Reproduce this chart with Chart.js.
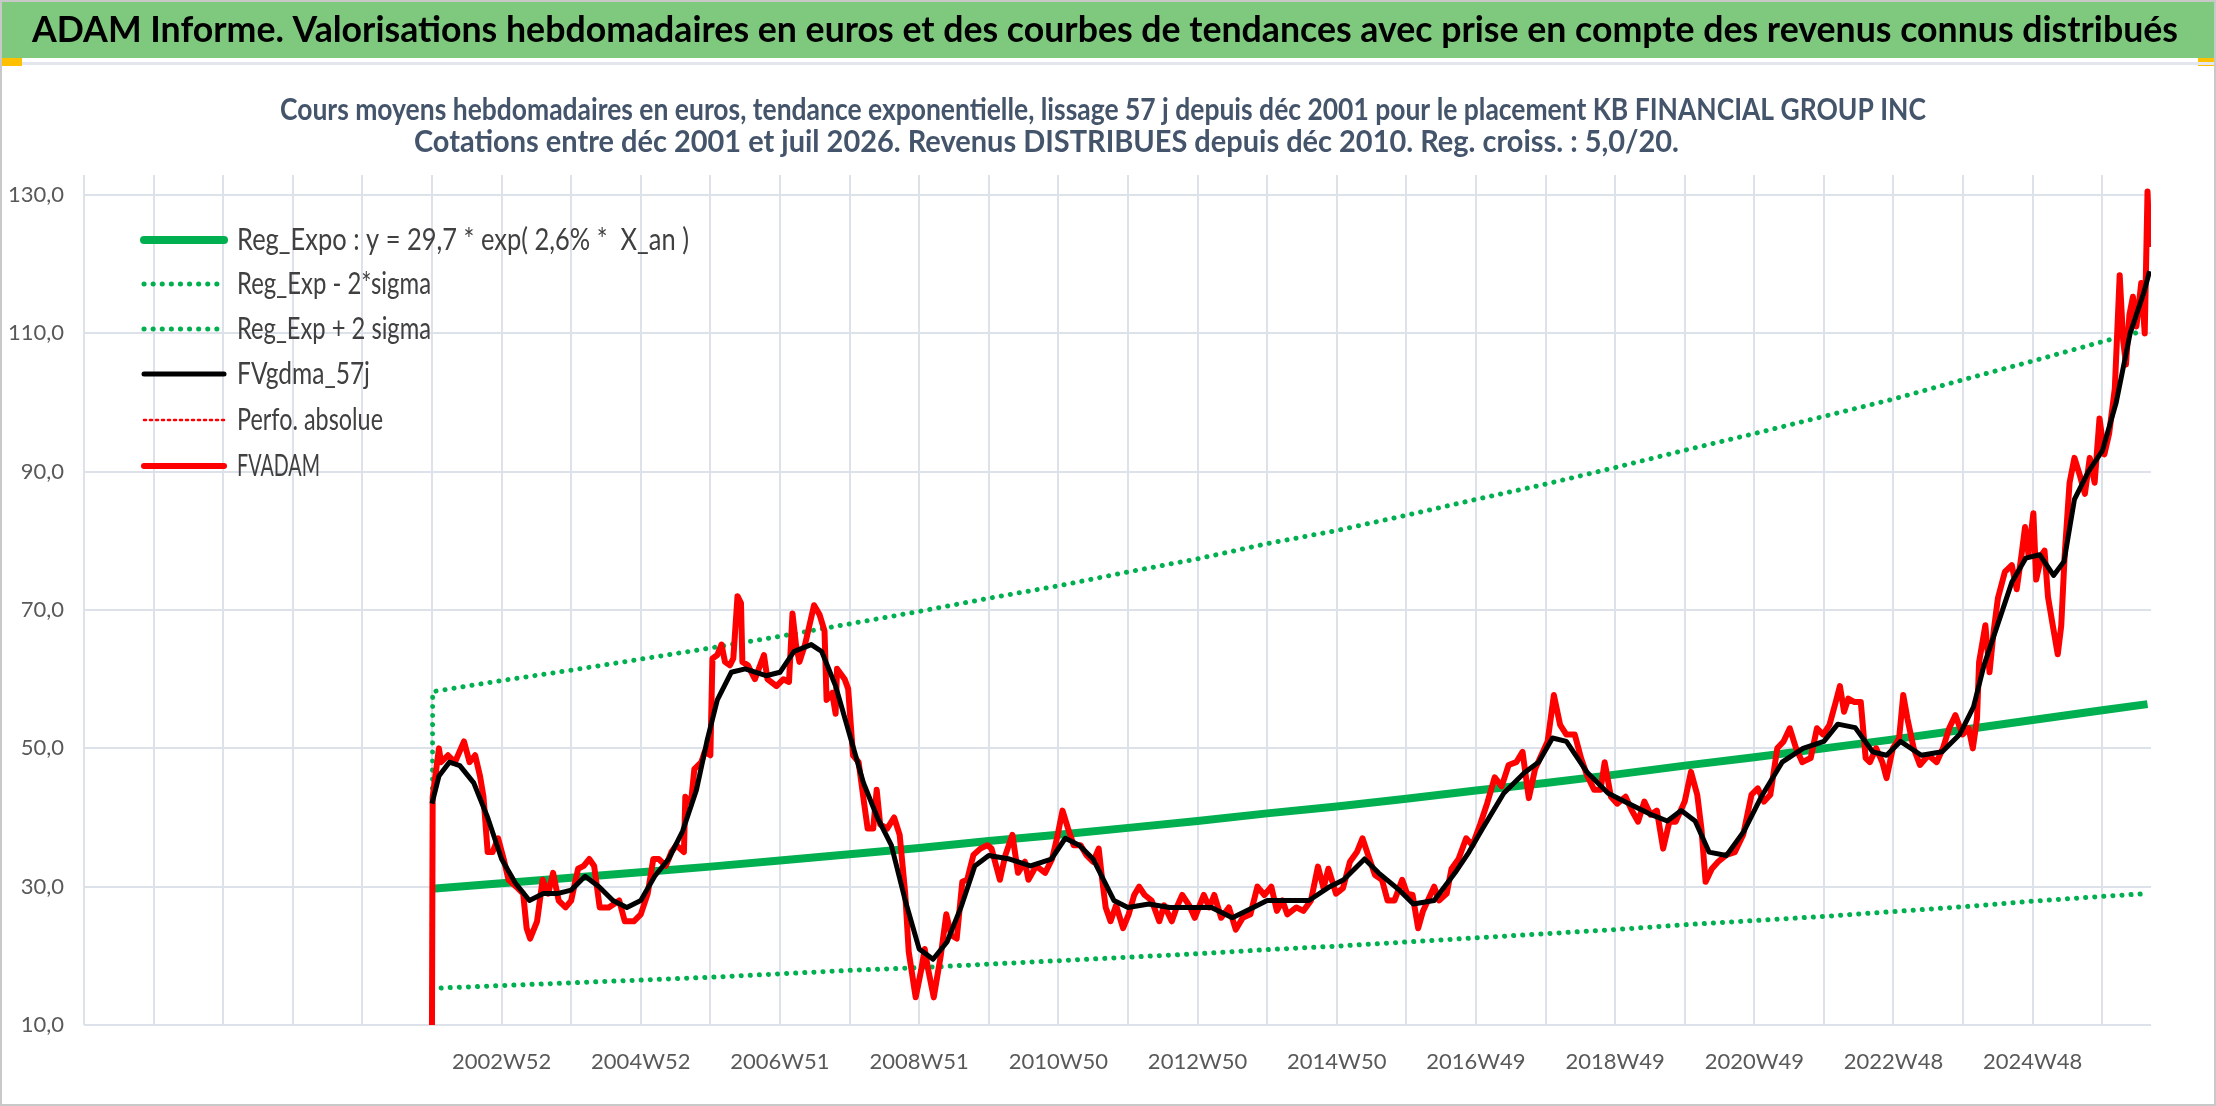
<!DOCTYPE html>
<html><head><meta charset="utf-8">
<script src="https://cdn.jsdelivr.net/npm/chart.js@4/dist/chart.umd.min.js"></script>
<style>html,body{margin:0;padding:0;background:#fff;}#wrap{position:relative;width:2216px;height:1106px;}</style>
</head><body><div id="wrap"><canvas id="c" width="2216" height="1106"></canvas></div>
<script>
const bannerText = "ADAM Informe. Valorisations hebdomadaires en euros et des courbes de tendances avec prise en compte des revenus connus distribués";
const titleLines = ["Cours moyens hebdomadaires en euros, tendance exponentielle, lissage 57 j depuis déc 2001 pour le placement KB FINANCIAL GROUP INC",
                    "Cotations entre déc 2001 et juil 2026. Revenus DISTRIBUES depuis déc 2010. Reg. croiss. : 5,0/20."];
const tickYears = [2003,2005,2007,2009,2011,2013,2015,2017,2019,2021,2023,2025];
const tickLabels = ["2002W52","2004W52","2006W51","2008W51","2010W50","2012W50","2014W50","2016W49","2018W49","2020W49","2022W48","2024W48"];
const yTicks = [10,30,50,70,90,110,130];

const trendX = [2002.0,2003,2004,2005,2006,2007,2008,2009,2010,2011,2012,2013,2014,2015,2016,2017,2018,2019,2020,2021,2022,2023,2024,2025,2026,2026.65];
const regExpo = [29.7,30.5,31.3,32.1,32.9,33.8,34.7,35.6,36.6,37.5,38.5,39.5,40.6,41.6,42.7,43.9,45.0,46.2,47.5,48.7,50.0,51.3,52.7,54.1,55.5,56.4];
const regLow  = [15.3,15.7,16.1,16.5,16.9,17.4,17.9,18.3,18.8,19.3,19.8,20.3,20.9,21.4,22.0,22.6,23.2,23.8,24.5,25.1,25.7,26.4,27.1,27.9,28.6,29.0];
const upX = [2002.0,2002.01,2003,2004,2005,2006,2007,2008,2009,2010,2011,2012,2013,2014,2015,2016,2017,2018,2019,2020,2021,2022,2023,2024,2025,2026,2026.65];
const regHigh = [10,58.2,59.8,61.3,62.9,64.5,66.2,68.0,69.8,71.7,73.5,75.5,77.4,79.6,81.5,83.7,86.0,88.2,90.6,93.1,95.5,98.0,100.5,103.3,106.0,108.8,110.5];

const smoothX = [2002.0,2002.1,2002.25,2002.4,2002.6,2002.8,2003.0,2003.2,2003.4,2003.6,2003.8,2004.0,2004.2,2004.4,2004.6,2004.8,2005.0,2005.2,2005.4,2005.6,2005.8,2005.95,2006.1,2006.3,2006.5,2006.8,2007.0,2007.2,2007.45,2007.6,2007.8,2008.0,2008.2,2008.4,2008.6,2008.8,2009.0,2009.2,2009.4,2009.6,2009.8,2010.0,2010.3,2010.6,2010.9,2011.1,2011.3,2011.5,2011.8,2012.0,2012.3,2012.6,2012.9,2013.2,2013.5,2013.8,2014.0,2014.3,2014.6,2014.9,2015.1,2015.4,2015.6,2015.9,2016.1,2016.4,2016.7,2016.9,2017.1,2017.4,2017.7,2017.9,2018.1,2018.3,2018.6,2018.9,2019.2,2019.5,2019.75,2019.95,2020.15,2020.35,2020.6,2020.85,2021.1,2021.4,2021.7,2022.0,2022.2,2022.45,2022.7,2022.9,2023.1,2023.4,2023.7,2023.95,2024.15,2024.3,2024.5,2024.7,2024.9,2025.1,2025.3,2025.45,2025.6,2025.8,2026.0,2026.2,2026.4,2026.6,2026.68];
const smoothY = [42,46,48,47.5,45,40,34,30.5,28,29,29,29.5,31.5,30,28,27,28,31.5,34,38,44,51,57,61,61.5,60.5,61,64,65,64,59,52,45,40,36,28,21,19.5,22,27,33,34.5,34,33,34,37,36,34,28,27,27.5,27,27,27,25.5,27,28,28,28,30,31,34,32,29.5,27.5,28,32,35,38.5,43.5,46.5,48,51.5,51,46.5,43.5,42,40.5,39.5,41,39.5,35,34.5,38,43,48,50,51,53.5,53,49.5,49,51,49,49.5,52,56,62,68,74,77.5,78,75,77,86,90,93,100,110,116,119];

const priceX = [2002.00,2002.01,2002.10,2002.13,2002.23,2002.33,2002.46,2002.54,2002.62,2002.69,2002.74,2002.80,2002.87,2002.95,2003.03,2003.10,2003.21,2003.31,2003.36,2003.41,2003.51,2003.59,2003.67,2003.74,2003.82,2003.92,2004.00,2004.10,2004.18,2004.26,2004.33,2004.41,2004.54,2004.69,2004.77,2004.90,2005.00,2005.10,2005.18,2005.26,2005.36,2005.44,2005.51,2005.62,2005.64,2005.72,2005.77,2005.87,2005.92,2006.00,2006.03,2006.10,2006.16,2006.21,2006.28,2006.33,2006.39,2006.44,2006.46,2006.54,2006.64,2006.77,2006.82,2006.95,2007.05,2007.13,2007.18,2007.23,2007.28,2007.36,2007.49,2007.57,2007.64,2007.67,2007.75,2007.80,2007.82,2007.93,2007.98,2008.05,2008.13,2008.21,2008.26,2008.34,2008.39,2008.44,2008.54,2008.64,2008.72,2008.80,2008.85,2008.95,2009.03,2009.08,2009.13,2009.21,2009.31,2009.39,2009.46,2009.54,2009.62,2009.69,2009.78,2009.88,2009.98,2010.04,2010.16,2010.24,2010.34,2010.42,2010.52,2010.57,2010.68,2010.81,2010.91,2010.98,2011.06,2011.14,2011.22,2011.32,2011.40,2011.50,2011.58,2011.63,2011.68,2011.75,2011.83,2011.93,2012.01,2012.09,2012.16,2012.24,2012.34,2012.45,2012.52,2012.63,2012.70,2012.78,2012.88,2012.96,2013.09,2013.17,2013.24,2013.34,2013.45,2013.55,2013.65,2013.76,2013.86,2013.96,2014.06,2014.14,2014.22,2014.29,2014.42,2014.52,2014.63,2014.73,2014.81,2014.88,2014.99,2015.09,2015.19,2015.29,2015.37,2015.45,2015.55,2015.65,2015.73,2015.83,2015.94,2016.01,2016.09,2016.17,2016.24,2016.40,2016.47,2016.58,2016.65,2016.75,2016.86,2016.95,2017.06,2017.16,2017.27,2017.37,2017.47,2017.58,2017.67,2017.76,2017.85,2017.94,2018.03,2018.12,2018.21,2018.30,2018.42,2018.51,2018.60,2018.70,2018.79,2018.85,2018.94,2019.03,2019.15,2019.24,2019.33,2019.42,2019.51,2019.60,2019.69,2019.78,2019.87,2020.00,2020.09,2020.18,2020.24,2020.30,2020.39,2020.48,2020.60,2020.72,2020.84,2020.96,2021.05,2021.14,2021.23,2021.33,2021.42,2021.51,2021.60,2021.69,2021.81,2021.90,2021.99,2022.08,2022.17,2022.23,2022.29,2022.35,2022.44,2022.53,2022.60,2022.66,2022.75,2022.84,2022.90,2022.99,2023.08,2023.14,2023.20,2023.29,2023.38,2023.50,2023.62,2023.71,2023.80,2023.89,2023.99,2024.08,2024.14,2024.20,2024.23,2024.32,2024.38,2024.44,2024.50,2024.60,2024.70,2024.77,2024.84,2024.89,2024.94,2025.01,2025.05,2025.13,2025.17,2025.22,2025.29,2025.36,2025.41,2025.46,2025.53,2025.60,2025.68,2025.75,2025.82,2025.89,2025.96,2026.03,2026.10,2026.18,2026.25,2026.30,2026.34,2026.39,2026.44,2026.49,2026.56,2026.61,2026.65,2026.68];
const priceY = [10,43,50,48,49,48,51,48,49,46,43,35,35,37,34,31,30,29,24,22.5,25,31,29,32,28,27,28,32.6,33,34,33,27,27,28,25,25,26,29,34,34,33,35,36,35,43,42,47,48,49.5,49,63,63.5,65,62.5,62,63,72,71,62.5,62,60,63.5,60,59,60,59.6,69.5,65,62.5,65,70.7,69.3,67,57,58,55,61.5,60,58.6,49,48,42,38.4,38.4,44,39,38.4,40,37.5,29,20.6,14,18,21,18,14,20,26,23,22.5,30.7,31,34.6,35.5,36,35.5,31,34.6,37.5,32,33.6,31,33,32,34,37,41,38.4,36,36,34.6,33.6,35.5,31,27,25,27.3,24,26,28.8,30,28.8,28,25,27.3,25,27,28.8,27.3,25.5,28.8,27,28.8,25.5,27,23.8,25.5,26,30,28.8,30,26.5,28,26,27,26.5,28,32.9,29.8,32.6,29,29.8,33.6,35,37,34.6,31.7,31,28,28,31,29,28.8,24,26.5,30,28,29,32.6,34,37,36,39,42,45.8,44.5,47.6,48,49.5,42.8,47,49,51,57.7,53.4,52,52,48.6,46,44,44,48,43,42,43,41,39.4,42.3,40.4,41,35.5,39.4,39.4,42.3,46.6,43.3,38.4,30.7,32.6,33.6,34.6,35,37.5,43.3,44.2,42.3,43.3,50,51,52.9,50,48,48.6,52.9,52,53.4,56.7,59,55.3,57.2,56.7,56.7,48.6,48,50,48,45.7,50,51.4,57.7,54.3,50,47.6,49,48,50,52.9,54.8,52,52.9,50,54.3,62.5,67.8,61,67,71.7,75.5,76.5,73,78,82,78,84,74.4,78,78.6,71.9,67.7,63.6,67.7,78,88.4,92,89.4,86.8,92,88.4,97.7,92.5,95.6,102,118.4,109,105.5,112.7,115.3,111,117.3,110,130.5,122.5];

const pts = (xs, ys) => xs.map((x, i) => ({x: x, y: ys[i]}));
const GREEN = '#00b050', RED = '#ff0000';

const legendItems = [
  {text: "Reg_Expo : y = 29,7 * exp( 2,6% *  X_an )", w: 452, color: GREEN, width: 8, dash: null},
  {text: "Reg_Exp - 2*sigma", w: 194, color: GREEN, width: 5, dash: [0.1, 9]},
  {text: "Reg_Exp + 2 sigma", w: 194, color: GREEN, width: 5, dash: [0.1, 9]},
  {text: "FVgdma_57j", w: 133, color: '#000000', width: 5, dash: null},
  {text: "Perfo. absolue", w: 146, color: RED, width: 2.5, dash: [2, 4]},
  {text: "FVADAM", w: 83, color: RED, width: 6, dash: null}
];

function fitText(ctx, txt, x, y, w) {
  const m = ctx.measureText(txt).width;
  ctx.save(); ctx.translate(x, y); ctx.scale(w / m, 1); ctx.fillText(txt, 0, 0); ctx.restore();
}

const deco = {
  id: 'deco',
  beforeDraw(chart) {
    const ctx = chart.ctx;
    ctx.save();
    ctx.fillStyle = '#7fc97f'; ctx.fillRect(0, 0, 2216, 58);
    ctx.fillStyle = '#ffc000'; ctx.fillRect(0, 58, 22, 8); ctx.fillRect(2198, 58, 18, 8);
    ctx.fillStyle = '#e3e6ec'; ctx.fillRect(22, 62, 2194, 3);
    ctx.fillStyle = '#000'; ctx.font = 'bold 36px Lato'; ctx.textBaseline = 'middle';
    fitText(ctx, bannerText, 32, 30, 2146);
    ctx.fillStyle = '#44546a'; ctx.font = 'bold 31px Lato';
    fitText(ctx, titleLines[0], 280, 110, 1646);
    fitText(ctx, titleLines[1], 414, 142, 1265);
    ctx.restore();
  },
  afterDraw(chart) {
    const ctx = chart.ctx;
    ctx.save();
    const rows = [240, 284, 329, 374, 420, 466];
    legendItems.forEach((it, i) => {
      const y = rows[i];
      ctx.beginPath(); ctx.strokeStyle = it.color; ctx.lineWidth = it.width;
      ctx.lineCap = 'round';
      ctx.setLineDash(it.dash || []);
      ctx.moveTo(144, y); ctx.lineTo(224, y); ctx.stroke();
      ctx.setLineDash([]);
      ctx.fillStyle = '#404040'; ctx.font = '31px Lato'; ctx.textBaseline = 'middle';
      fitText(ctx, it.text, 237, y, it.w);
    });
    ctx.strokeStyle = '#c8c8c8'; ctx.lineWidth = 2; ctx.strokeRect(1, 1, 2214, 1104);
    ctx.restore();
  }
};

new Chart(document.getElementById('c'), {
  type: 'line',
  data: {
    datasets: [
      {label: legendItems[0].text, data: pts(trendX, regExpo), borderColor: GREEN, borderWidth: 8, order: 5},
      {label: legendItems[1].text, data: pts(trendX, regLow), borderColor: GREEN, borderWidth: 5, borderDash: [0.1, 9], borderCapStyle: 'round', order: 6},
      {label: legendItems[2].text, data: pts(upX, regHigh), borderColor: GREEN, borderWidth: 5, borderDash: [0.1, 9], borderCapStyle: 'round', order: 6},
      {label: legendItems[3].text, data: pts(smoothX, smoothY), borderColor: '#000', borderWidth: 5, order: 1},
      {label: legendItems[4].text, data: [], borderColor: RED, borderWidth: 2, borderDash: [2, 4], order: 4},
      {label: legendItems[5].text, data: pts(priceX, priceY), borderColor: RED, borderWidth: 6, order: 3}
    ]
  },
  options: {
    responsive: false, animation: false,
    layout: {padding: {left: 0, right: 65, top: 175, bottom: 0}},
    elements: {point: {radius: 0}, line: {tension: 0, borderJoinStyle: 'round'}},
    plugins: {legend: {display: false}, title: {display: false}, tooltip: {enabled: false}},
    scales: {
      x: {
        type: 'linear', min: 1997, max: 2026.7,
        afterBuildTicks(s) { const t = []; for (let y = 1997; y <= 2026; y++) t.push({value: y}); s.ticks = t; },
        afterFit(s) { s.height = 81; },
        ticks: {
          autoSkip: false, maxRotation: 0, padding: 24, color: '#595959', font: {family: 'Lato', size: 22},
          callback(v) { const i = tickYears.indexOf(v); return i >= 0 ? tickLabels[i] : ''; }
        },
        grid: {color: '#dde1ea', lineWidth: 2, drawTicks: false},
        border: {display: false}
      },
      y: {
        min: 10, max: 132.9,
        afterBuildTicks(s) { s.ticks = yTicks.map(v => ({value: v})); },
        afterFit(s) { s.width = 84; },
        ticks: {padding: 20, color: '#595959', font: {family: 'Lato', size: 22},
          callback(v) { return v.toFixed(1).replace('.', ','); }},
        grid: {color: '#dde1ea', lineWidth: 2, drawTicks: false},
        border: {display: false}
      }
    }
  },
  plugins: [deco]
});
</script></body></html>
